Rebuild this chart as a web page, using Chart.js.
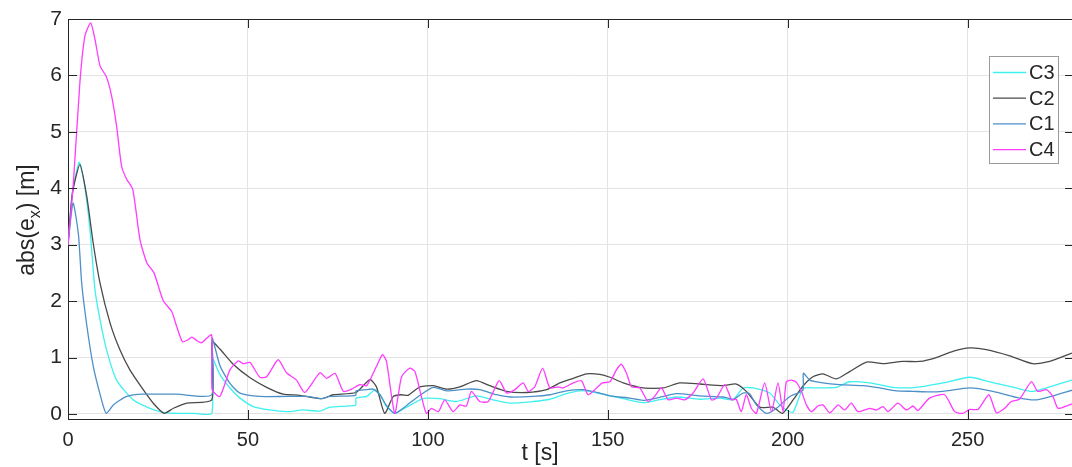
<!DOCTYPE html>
<html>
<head>
<meta charset="utf-8">
<script src="https://cdn.jsdelivr.net/npm/chart.js@4.4.1/dist/chart.umd.min.js"></script>
<style>
  html, body { margin: 0; padding: 0; background: #fff; }
  #wrap { width: 1072px; height: 467px; }
</style>
</head>
<body>
<div id="wrap"><canvas id="chart" width="1072" height="467"></canvas></div>
<script>
// time axis ticks and series
const xTicks = [0, 50, 100, 150, 200, 250];
const yTicks = [0, 1, 2, 3, 4, 5, 6, 7];

const tC3 = [0, 1.2, 3.1, 4.5, 6.1, 7.5, 8.9, 10.7, 13.5, 18.1, 22.8, 27.4, 35, 39.95, 40.05, 42.2, 45, 47.8, 51.5, 56.1, 60.7, 65.4, 70, 72.8, 77.4, 79.95, 80.05, 83, 85.3, 86.7, 88.5, 90.8, 94.1, 97.8, 99.6, 103.3, 107.9, 113.5, 118.1, 122.8, 129.3, 133.9, 138.5, 142.2, 145, 147.8, 152.4, 159.8, 163.5, 169.1, 175.6, 181.1, 184.8, 187.6, 190.4, 195, 197.8, 199.6, 201.5, 204.3, 208, 213.5, 217.2, 222.8, 229.3, 235.7, 243.1, 250.6, 256.1, 263.5, 268.1, 272.8, 279];
const vC3 = [3.0, 3.9, 4.46, 4.1, 3.27, 2.2, 1.67, 1.14, 0.6, 0.25, 0.1, 0.02, 0.01, 0.01, 0.99, 0.7, 0.46, 0.28, 0.13, 0.07, 0.04, 0.07, 0.05, 0.12, 0.14, 0.16, 0.28, 0.31, 0.43, 0.34, 0.13, 0.01, 0.12, 0.25, 0.28, 0.27, 0.22, 0.32, 0.25, 0.19, 0.22, 0.26, 0.36, 0.41, 0.40, 0.36, 0.30, 0.2, 0.24, 0.30, 0.26, 0.28, 0.25, 0.46, 0.46, 0.37, 0.16, 0.07, 0.03, 0.45, 0.46, 0.47, 0.57, 0.55, 0.47, 0.47, 0.55, 0.65, 0.57, 0.46, 0.40, 0.48, 0.6];

const tC2 = [0, 1.2, 3.3, 5.2, 7, 8.9, 11.7, 14.4, 17.2, 20.9, 23.7, 26.7, 29.3, 33, 39.95, 40.05, 42.2, 45.9, 50.6, 55.2, 59.8, 64.4, 70.5, 73.7, 80, 83.9, 85.7, 88, 90.4, 92.7, 94.5, 97.8, 101.5, 105.2, 108.9, 113.5, 117.2, 121.9, 127.4, 133, 136.7, 140.4, 144.1, 147.8, 150.6, 154.3, 159.8, 165.4, 170, 175.6, 182, 185.7, 188.5, 192.2, 195.9, 198.5, 201.5, 204.3, 207, 209.8, 213.5, 217.2, 221.9, 226.5, 232, 236.7, 241.3, 245.9, 250.6, 255.2, 261.7, 268.1, 272.8, 279];
const vC2 = [3.0, 3.9, 4.42, 3.86, 3.03, 2.32, 1.61, 1.14, 0.78, 0.43, 0.19, 0.01, 0.1, 0.19, 0.25, 1.28, 1.15, 0.88, 0.64, 0.47, 0.35, 0.33, 0.27, 0.34, 0.38, 0.61, 0.48, 0.01, 0.31, 0.34, 0.33, 0.48, 0.50, 0.44, 0.48, 0.59, 0.50, 0.40, 0.38, 0.43, 0.55, 0.63, 0.71, 0.70, 0.65, 0.55, 0.46, 0.46, 0.55, 0.53, 0.50, 0.53, 0.40, 0.12, 0.12, 0.01, 0.25, 0.50, 0.66, 0.71, 0.62, 0.75, 0.92, 0.89, 0.93, 0.93, 1.0, 1.11, 1.17, 1.14, 1.03, 0.89, 0.93, 1.08];

const tC1 = [0, 1.4, 2.9, 3.8, 5.2, 7, 8.9, 10.6, 12.6, 16.3, 20.9, 30.2, 39.95, 40.05, 42.2, 45, 47.8, 53.3, 60.7, 66.3, 70.5, 72.8, 79.95, 80.05, 83, 84.8, 86.7, 88.5, 90.8, 94.1, 97.8, 101.5, 105.2, 110.7, 114.4, 119.1, 122.8, 129.3, 133.9, 138.5, 143.1, 147.8, 150.6, 156.1, 159.8, 163.5, 169.1, 175.6, 182, 184.8, 187.6, 189.4, 191.3, 194.1, 196.9, 200.6, 204.2, 204.35, 206.1, 209.8, 214.4, 220.9, 225.6, 230.2, 234.8, 239.4, 243.1, 250.6, 257, 264.4, 269.1, 273.7, 279];
const vC1 = [3.0, 3.74, 3.18, 2.32, 1.58, 0.85, 0.35, 0.01, 0.16, 0.31, 0.35, 0.35, 0.34, 1.34, 0.86, 0.54, 0.37, 0.31, 0.31, 0.31, 0.27, 0.31, 0.33, 0.41, 0.43, 0.44, 0.34, 0.15, 0.01, 0.15, 0.33, 0.47, 0.41, 0.44, 0.43, 0.34, 0.30, 0.31, 0.34, 0.41, 0.43, 0.37, 0.32, 0.28, 0.24, 0.28, 0.36, 0.32, 0.30, 0.26, 0.37, 0.36, 0.16, 0.01, 0.1, 0.31, 0.42, 0.72, 0.60, 0.55, 0.52, 0.50, 0.46, 0.41, 0.40, 0.39, 0.40, 0.46, 0.40, 0.28, 0.25, 0.32, 0.42];

const tC4 = [0, 1.5, 3.3, 4.7, 6.3, 7.5, 8.9, 10.7, 12.1, 13.5, 14.9, 16.3, 18, 20, 21.9, 23.9, 26.5, 28.8, 30.2, 31.8, 33.2, 34.4, 35.8, 37.1, 39.9, 40.05, 42.2, 45, 47.3, 48.7, 50.6, 53.3, 55.2, 58.4, 60.7, 63.5, 65.8, 70, 71.9, 74.2, 76.5, 78.8, 81.1, 83, 85.7, 87.4, 88.5, 90.8, 92.7, 95, 96.4, 98.2, 99.6, 101, 102.9, 104.7, 107, 108.9, 110.7, 112.1, 114.4, 116.8, 119.8, 121.9, 124.2, 126.5, 127.9, 129.7, 131.9, 133.9, 136.2, 137.6, 140.4, 142.7, 144.5, 146.9, 148.5, 150.6, 152.4, 153.8, 155.2, 156.6, 158.9, 161.2, 163, 164.9, 166.8, 169.1, 171.4, 173.7, 176.5, 178.8, 180.2, 182.5, 184.4, 185.7, 187.1, 188.5, 189.9, 191.3, 193.6, 195.5, 197.3, 198.7, 199.6, 201, 202.4, 203.8, 205.2, 206.6, 208.4, 209.8, 211.7, 214, 215.8, 217.7, 219.5, 222.8, 224.6, 226.5, 227.9, 230.6, 233, 234.8, 236.2, 239.4, 243.6, 246.4, 248.7, 250.6, 252.9, 255.9, 258, 260.3, 262.1, 264.4, 267.7, 269.5, 271.9, 273.7, 275.1, 278.3, 279];
const vC4 = [3.0, 4.1, 5.87, 6.7, 6.93, 6.64, 6.17, 5.97, 5.64, 5.1, 4.39, 4.16, 3.98, 3.09, 2.68, 2.5, 2.0, 1.82, 1.55, 1.28, 1.31, 1.36, 1.3, 1.26, 1.40, 0.43, 0.31, 0.78, 0.94, 0.89, 0.91, 0.65, 0.66, 0.96, 0.73, 0.6, 0.38, 0.73, 0.63, 0.72, 0.40, 0.44, 0.52, 0.5, 0.84, 1.05, 0.93, 0.01, 0.66, 0.81, 0.75, 0.31, 0.01, 0.1, 0.04, 0.25, 0.04, 0.16, 0.14, 0.40, 0.22, 0.22, 0.59, 0.37, 0.43, 0.55, 0.40, 0.48, 0.81, 0.46, 0.48, 0.46, 0.55, 0.59, 0.34, 0.46, 0.55, 0.57, 0.78, 0.88, 0.72, 0.48, 0.46, 0.22, 0.31, 0.46, 0.25, 0.28, 0.25, 0.37, 0.62, 0.25, 0.28, 0.52, 0.25, 0.26, 0.04, 0.34, 0.1, 0.01, 0.55, 0.04, 0.55, 0.04, 0.57, 0.6, 0.56, 0.40, 0.16, 0.04, 0.14, 0.16, 0.02, 0.16, 0.07, 0.19, 0.04, 0.1, 0.07, 0.13, 0.04, 0.19, 0.07, 0.14, 0.06, 0.28, 0.34, 0.04, 0.01, 0.08, 0.08, 0.34, 0.02, 0.1, 0.22, 0.26, 0.57, 0.40, 0.43, 0.31, 0.1, 0.16, 0.18];

const labels = ['C3', 'C2', 'C1', 'C4'];
const colors = ['#3ff0f0', '#4a4a4a', '#4d90c8', '#ff3cff'];

const pts = (t, v) => t.map((x, i) => ({ x: x, y: v[i] }));
const series = [pts(tC3, vC3), pts(tC2, vC2), pts(tC1, vC1), pts(tC4, vC4)];

const FONT = '"Liberation Sans", Arial, sans-serif';
const TXT = '#262626';

// axis box, inward ticks, axis titles and legend, MATLAB style
const overlay = {
  id: 'overlay',
  afterDraw(chart) {
    const ctx = chart.ctx;
    const a = chart.chartArea;
    const xs = chart.scales.x, ys = chart.scales.y;
    ctx.save();
    ctx.strokeStyle = '#262626';
    ctx.lineWidth = 1;
    ctx.beginPath();
    ctx.moveTo(a.left, a.top + 0.5);
    ctx.lineTo(a.right, a.top + 0.5);
    xTicks.forEach(v => {
      const px = Math.round(xs.getPixelForValue(v)) + 0.5;
      ctx.moveTo(px, a.bottom); ctx.lineTo(px, a.bottom - 9);
      ctx.moveTo(px, a.top); ctx.lineTo(px, a.top + 9);
    });
    yTicks.forEach(v => {
      const py = Math.round(ys.getPixelForValue(v)) + 0.5;
      ctx.moveTo(a.left, py); ctx.lineTo(a.left + 9, py);
      ctx.moveTo(a.right, py); ctx.lineTo(a.right - 7, py);
    });
    ctx.stroke();

    // axis titles
    ctx.fillStyle = TXT;
    ctx.font = '23px ' + FONT;
    ctx.textAlign = 'center';
    ctx.textBaseline = 'alphabetic';
    ctx.fillText('t [s]', 540, 460);

    ctx.translate(34, 220);
    ctx.rotate(-Math.PI / 2);
    const p1 = 'abs(e', p3 = ') [m]';
    ctx.font = '23px ' + FONT;
    const w1 = ctx.measureText(p1).width, w3 = ctx.measureText(p3).width;
    ctx.font = '16px ' + FONT;
    const w2 = ctx.measureText('x').width;
    let x0 = -(w1 + w2 + w3) / 2;
    ctx.textAlign = 'left';
    ctx.font = '23px ' + FONT;
    ctx.fillText(p1, x0, 0);
    ctx.font = '16px ' + FONT;
    ctx.fillText('x', x0 + w1, 6);
    ctx.font = '23px ' + FONT;
    ctx.fillText(p3, x0 + w1 + w2, 0);
    ctx.restore();

    // legend box
    ctx.save();
    const bx = 989, by = 56, bw = 69, bh = 107;
    ctx.fillStyle = '#fff';
    ctx.fillRect(bx, by, bw, bh);
    ctx.strokeStyle = '#9a9a9a';
    ctx.lineWidth = 1;
    ctx.strokeRect(bx + 0.5, by + 0.5, bw, bh);
    ctx.font = '20px ' + FONT;
    ctx.textAlign = 'left';
    ctx.textBaseline = 'middle';
    labels.forEach((lab, i) => {
      const yy = 72.5 + i * 25.7;
      ctx.strokeStyle = colors[i];
      ctx.lineWidth = 1.3;
      ctx.beginPath();
      ctx.moveTo(993, yy); ctx.lineTo(1026, yy);
      ctx.stroke();
      ctx.fillStyle = TXT;
      ctx.fillText(lab, 1029, yy + 1);
    });
    ctx.restore();
  }
};

new Chart(document.getElementById('chart'), {
  type: 'line',
  data: {
    datasets: series.map((d, i) => ({
      label: labels[i],
      data: d,
      borderColor: colors[i],
      borderWidth: 1.3,
      pointRadius: 0,
      tension: 0.2,
      fill: false,
      order: 4 - i
    }))
  },
  options: {
    responsive: false,
    animation: false,
    layout: { padding: { top: 19, right: 0, left: 0, bottom: 0 } },
    plugins: { legend: { display: false }, tooltip: { enabled: false } },
    scales: {
      x: {
        type: 'linear',
        min: 0,
        max: 279,
        afterBuildTicks: s => { s.ticks = xTicks.map(v => ({ value: v })); },
        afterFit: s => { s.height = 48; },
        grid: { color: '#e3e3e3', drawTicks: false },
        border: { display: true, color: '#262626', width: 1 },
        ticks: { color: TXT, font: { family: FONT, size: 20 }, padding: 9, maxRotation: 0 }
      },
      y: {
        min: -0.09,
        max: 7,
        afterBuildTicks: s => { s.ticks = yTicks.map(v => ({ value: v })); },
        afterFit: s => { s.width = 68; },
        grid: { color: '#e3e3e3', drawTicks: false },
        border: { display: true, color: '#262626', width: 1 },
        ticks: { color: TXT, font: { family: FONT, size: 21 }, padding: 6 }
      }
    }
  },
  plugins: [overlay]
});
</script>
</body>
</html>
